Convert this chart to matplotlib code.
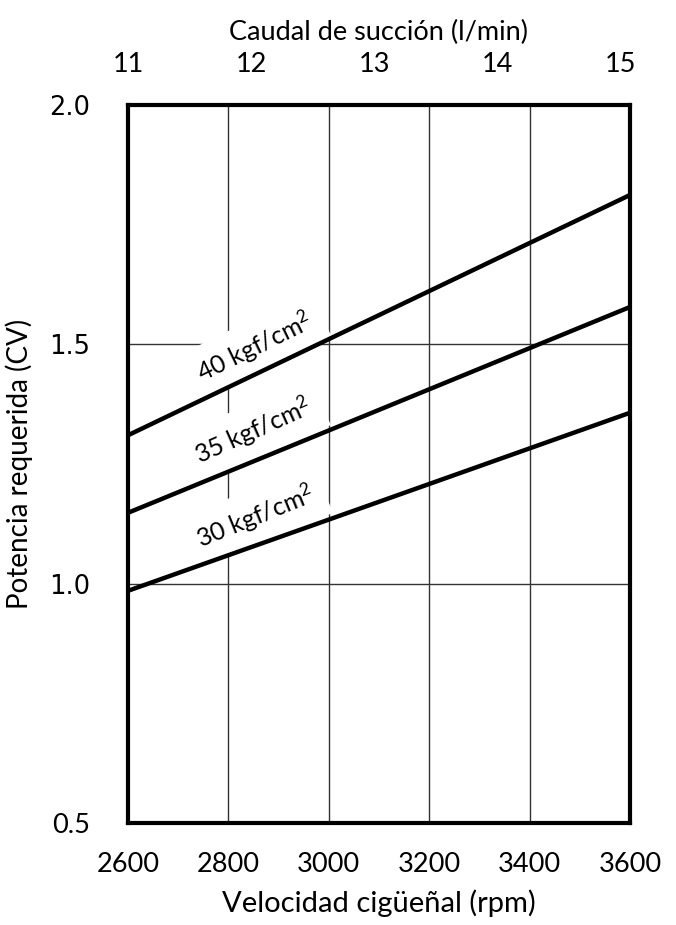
import numpy as np
import matplotlib
matplotlib.use("Agg")
import matplotlib.pyplot as plt

plt.rcParams['font.family'] = ['Lato', 'DejaVu Sans']
plt.rcParams['mathtext.fontset'] = 'custom'
plt.rcParams['mathtext.rm'] = 'Lato'
plt.rcParams['mathtext.it'] = 'Lato:italic'

# data
rpm = [2600, 3600]
p40 = [1.31, 1.812]
p35 = [1.148, 1.578]
p30 = [0.985, 1.357]
curve_labels = ['40 kgf/cm$^{\\mathrm{2}}$', '35 kgf/cm$^{\\mathrm{2}}$', '30 kgf/cm$^{\\mathrm{2}}$']
label_x = [2853, 2849, 2853]
label_y = [1.494, 1.319, 1.141]
label_rot = [26, 24, 22]

xticks = [2600, 2800, 3000, 3200, 3400, 3600]
yticks = [0.5, 1.0, 1.5, 2.0]
flow_ticks = [11, 12, 13, 14, 15]

# rpm <-> l/min mapping for the top axis
rpm0, rpm_per_lmin = 2601, 245.0
def to_flow(x):
    return 11 + (np.asarray(x) - rpm0) / rpm_per_lmin
def to_rpm(q):
    return rpm0 + (np.asarray(q) - 11) * rpm_per_lmin

fig = plt.figure(figsize=(6.76, 9.25), dpi=100)
ax = fig.add_axes([0.1893, 0.1103, 0.7427, 0.7762])

ax.set_xlim(2600, 3600)
ax.set_ylim(0.5, 2.0)
ax.set_xticks(xticks)
ax.set_yticks(yticks)
ax.set_yticklabels(['%.1f' % v for v in yticks])
ax.grid(True, color='#333333', linewidth=1.0, zorder=1)
ax.set_axisbelow(True)

for s in ax.spines.values():
    s.set_linewidth(3.0)
    s.set_zorder(5)

ax.tick_params(axis='x', length=0, pad=21, labelsize=19.5)
ax.tick_params(axis='y', length=0, pad=27, labelsize=19.5)
# the upper three y labels use a different face in the original
for t in ax.get_yticklabels():
    if t.get_text() != '0.5':
        t.set_fontfamily('DejaVu Sans')
        t.set_fontsize(18.5)

ax.set_xlabel('Velocidad cigüeñal (rpm)', fontsize=21, labelpad=9)
ax.set_ylabel('Potencia requerida (CV)', fontsize=20, labelpad=12)

for ys in (p40, p35, p30):
    ax.plot(rpm, ys, color='black', linewidth=3.2, solid_capstyle='butt', zorder=4)

for txt, x, y, r in zip(curve_labels, label_x, label_y, label_rot):
    ax.text(x, y, txt, fontsize=18, rotation=r, rotation_mode='anchor',
            ha='center', va='center', zorder=3,
            bbox=dict(facecolor='white', edgecolor='none', pad=8))

top = ax.secondary_xaxis('top', functions=(to_flow, to_rpm))
top.set_xticks(flow_ticks)
top.tick_params(length=0, pad=20, labelsize=19.5)
top.spines['top'].set_visible(False)
top.set_xlabel('Caudal de succión (l/min)', fontsize=19.5, labelpad=9)

fig.savefig('out.png', dpi=100)
